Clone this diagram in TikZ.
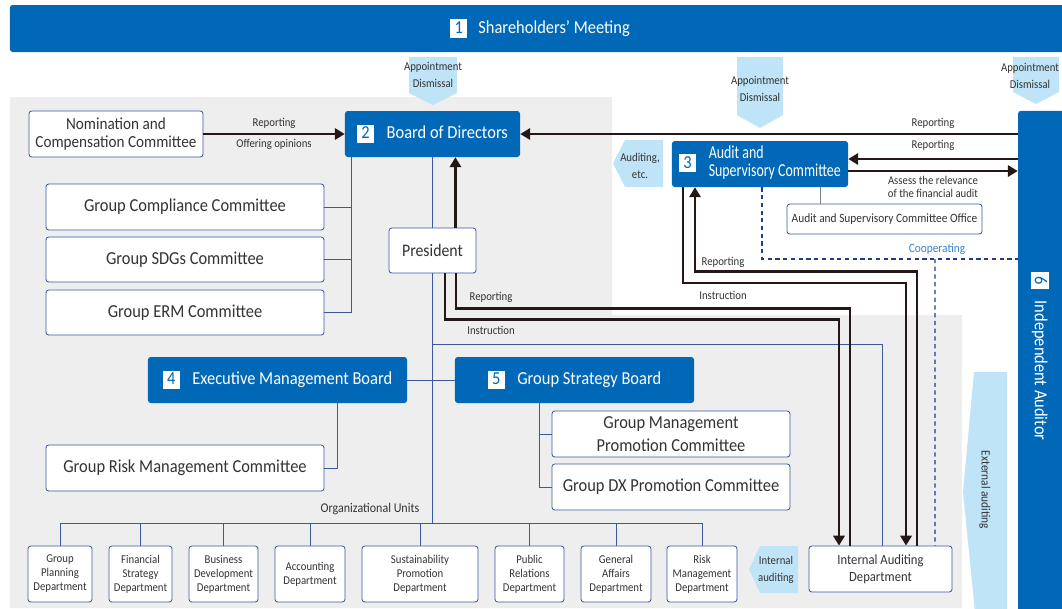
\documentclass[tikz,border=0pt]{standalone}
\usepackage{fontspec}
\setmainfont{Carlito}[FakeStretch=0.9]
\newfontfamily\narrowfont{Carlito}[FakeStretch=0.76]
\usetikzlibrary{arrows.meta,positioning,calc}
\definecolor{corpblue}{HTML}{0068B7}
\definecolor{paleblue}{HTML}{BFE4F8}
\definecolor{panelgrey}{HTML}{EEEEEE}
\definecolor{frameblue}{HTML}{3B5A9E}
\definecolor{inkgrey}{HTML}{333333}
\definecolor{flowink}{HTML}{231815}
\definecolor{coopblue}{HTML}{1D3C8A}
\definecolor{cooptext}{HTML}{3A86CB}
\setlength{\fboxsep}{1.5pt}
\newcommand{\badge}[1]{\colorbox{white}{\makebox[9pt]{\rule[-1.5pt]{0pt}{9.5pt}\color{corpblue}#1}}}

\begin{document}
\begin{tikzpicture}[x=0.025cm,y=-0.025cm,font=\fontsize{13}{13}\selectfont,
   unitbox/.style={draw=frameblue,fill=white,line width=0.6pt,rounded corners=2pt,align=center,text=inkgrey,inner sep=2pt},
   bluebox/.style={fill=corpblue,rounded corners=2pt,text=white,align=center,inner sep=2pt},
   deptbox/.style={unitbox,minimum height=1.4cm,font=\fontsize{8.5}{10}\selectfont},
   tag/.style={text=inkgrey,font=\fontsize{8.5}{12}\selectfont,inner sep=1pt,align=center},
   link/.style={draw=frameblue,line width=0.6pt},
   officelink/.style={draw=gray,line width=0.6pt},
   flow/.style={draw=flowink,line width=1.7pt},
   flowarrow/.style={flow,-{Triangle[length=7pt,width=8pt]}},
   coop/.style={draw=coopblue,line width=0.8pt,dash pattern=on 3pt off 2.5pt},
   marker/.style={fill=paleblue}]
  \useasboundingbox (0,0) rectangle (1062,608);

  % grey panel behind the execution side
  \fill[panelgrey] (10,97) -- (612,97) -- (612,315) -- (962,315) -- (962,608) -- (10,608) -- cycle;

  % light blue pointers
  \fill[marker] (409,57) -- (457,57) -- (457,93) -- (433,105) -- (409,93) -- cycle;
  \fill[marker] (737,57) -- (783,57) -- (783,115) -- (760,128) -- (737,115) -- cycle;
  \fill[marker] (1013,57) -- (1059,57) -- (1059,92) -- (1036,104) -- (1013,92) -- cycle;
  \fill[marker] (625,140) -- (663,140) -- (663,187) -- (625,187) -- (613,163.5) -- cycle;
  \fill[marker] (760,546) -- (798,546) -- (798,593) -- (760,593) -- (749,569.5) -- cycle;
  \fill[marker] (1007,372) -- (974,372) -- (963,492) -- (975,612) -- (1007,612) -- cycle;
  \node[tag] (appt1) at (433,75) {Appointment\\Dismissal};
  \node[tag] (appt2) at (760,89) {Appointment\\Dismissal};
  \node[tag] (appt3) at (1030,75.5) {Appointment\\Dismissal};
  \node[tag] (audetc) at (640,166) {Auditing,\\etc.};
  \node[tag] (intaud) at (776,570) {Internal\\auditing};
  \node[tag,font=\fontsize{9}{12}\selectfont,rotate=-90] (extaud) at (985,490) {External auditing};

  % bodies
  \node[bluebox,minimum width=26.5cm,minimum height=1.175cm] (meet) at (540,28.5) {\badge{1}\hspace{8pt}Shareholders’ Meeting};
  \node[bluebox,minimum width=1.55cm,minimum height=12.725cm] (auditor) at (1049,365.5) {};
  \node[text=white,rotate=-90] (auditorlbl) at (1040,356.5) {\badge{6}\hspace{8pt}Independent Auditor};

  \node[bluebox,minimum width=4.375cm,minimum height=1.15cm] (board) at (432.5,134) {\badge{2}\hspace{9pt}Board of Directors};
  \node[unitbox,minimum width=4.35cm,minimum height=1.15cm,font=\fontsize{12}{13}\selectfont] (nomcom) at (116,134) {Nomination and\\Compensation Committee};
  \node[unitbox,minimum width=6.95cm,minimum height=1.15cm] (comp) at (185,207) {Group Compliance Committee};
  \node[unitbox,minimum width=6.95cm,minimum height=1.125cm] (sdgs) at (185,259.5) {Group SDGs Committee};
  \node[unitbox,minimum width=6.95cm,minimum height=1.125cm] (erm) at (185,312.5) {Group ERM Committee};
  \node[unitbox,minimum width=2.175cm,minimum height=1.125cm,font=\fontsize{12.5}{13}\selectfont] (pres) at (432.5,250.5) {President};

  \node[bluebox,minimum width=4.4cm,minimum height=1.15cm] (asc) at (760,164)
       {\badge{3}\hspace{9pt}{\narrowfont\begin{tabular}{@{}l@{}}Audit and\\Supervisory Committee\end{tabular}}};
  \node[unitbox,minimum width=4.875cm,minimum height=0.75cm,font=\fontsize{9}{10}\selectfont] (office) at (884.5,219) {Audit and Supervisory Committee Office};

  \node[bluebox,minimum width=6.475cm,minimum height=1.15cm] (emb) at (277.5,380) {\badge{4}\hspace{9pt}Executive Management Board};
  \node[unitbox,minimum width=6.95cm,minimum height=1.15cm] (grm) at (185,468) {Group Risk Management Committee};
  \node[bluebox,minimum width=5.975cm,minimum height=1.15cm] (gsb) at (574.5,380) {\badge{5}\hspace{9pt}Group Strategy Board};
  \node[unitbox,minimum width=5.95cm,minimum height=1.15cm,font=\fontsize{13}{16}\selectfont] (gmp) at (671,434) {Group Management\\Promotion Committee};
  \node[unitbox,minimum width=5.95cm,minimum height=1.15cm] (gdx) at (671,487) {Group DX Promotion Committee};
  \node[unitbox,minimum width=3.575cm,minimum height=1.15cm,font=\fontsize{10}{12}\selectfont] (iad) at (880.5,569) {Internal Auditing\\Department};

  % organizational units
  \foreach \nm/\cx/\w/\txt in {
      gp/60/1.6/{Group\\Planning\\Department},
      fs/140.5/1.575/{Financial\\Strategy\\Department},
      bd/223.5/1.725/{Business\\Development\\Department},
      acc/310/1.75/{Accounting\\Department},
      sus/420/2.9/{Sustainability\\Promotion\\Department},
      pr/529.5/1.725/{Public\\Relations\\Department},
      ga/616/1.75/{General\\Affairs\\Department},
      rm/702/1.75/{Risk\\Management\\Department}}
    \node[deptbox,minimum width=\w cm] (\nm) at (\cx,574) {\txt};
  \node[text=inkgrey,font=\fontsize{9.5}{11}\selectfont] (orglbl) at (370,509) {Organizational Units};

  % thin reporting lines
  \coordinate (bodstem) at ([xshift=0.175cm]board.south west);
  \draw[link] (bodstem) |- (erm.east);
  \draw[link] (comp.east) -- (comp.east -| bodstem);
  \draw[link] (sdgs.east) -- (sdgs.east -| bodstem);
  \coordinate (bus) at (432.5,523);
  \coordinate (tap) at (432.5,344);
  \draw[link] (board.south) -- (pres.north);
  \draw[link] (pres.south) -- (bus);
  \draw[link] (gp.north |- bus) -- (rm.north |- bus);
  \foreach \nm in {gp,fs,bd,acc,sus,pr,ga,rm}
    \draw[link] (\nm.north) -- (\nm.north |- bus);
  \draw[link] (tap) -| ([xshift=0.06cm]iad.north);
  \draw[link] (emb.east) -- (gsb.west);
  \draw[link] ([xshift=1.4875cm]emb.south) |- (grm.east);
  \coordinate (gsbstem) at ([xshift=-0.8875cm]gsb.south);
  \draw[link] (gsbstem) |- (gdx.west);
  \draw[link] (gmp.west) -- (gmp.west -| gsbstem);
  \coordinate (officestem) at ([xshift=-1.6125cm]office.north);
  \draw[officelink] (officestem) -- (officestem |- asc.south);

  % cooperation with the auditor
  \coordinate (coopjoin) at (935,259);
  \draw[coop] ([xshift=0.05cm]asc.south) |- (coopjoin) -- (coopjoin -| auditor.west);
  \draw[coop] (coopjoin) -- ([xshift=1.3625cm]iad.north);
  \node[text=cooptext,font=\fontsize{9}{11}\selectfont] (cooplbl) at (937,249) {Cooperating};

  % heavy flows
  \draw[flowarrow] (nomcom) -- (board)
     node[midway,above=2pt,tag] {Reporting}
     node[midway,below=2pt,tag] {Offering opinions};
  \draw[flowarrow] (auditor.west |- board.east) -- (board.east);
  \node[tag] (bodrep) at (933,123) {Reporting};
  \coordinate (ascin) at ([yshift=0.125cm]asc.east);
  \coordinate (ascout) at ([yshift=-0.175cm]asc.east);
  \draw[flowarrow] (ascin -| auditor.west) -- (ascin);
  \draw[flowarrow] (ascout) -- (ascout -| auditor.west);
  \node[tag] (ascrep) at (933,145) {Reporting};
  \node[tag,font=\fontsize{8.5}{9.5}\selectfont] (assess) at (933,187) {Assess the relevance\\of the financial audit};

  \coordinate (presup) at ([xshift=-0.525cm]pres.north east);
  \draw[flowarrow] (presup) -- (presup |- board.south);
  \draw[flow] ([xshift=0.5875cm]pres.south) -- ++(0,35) -| ([xshift=-0.7625cm]iad.north);
  \draw[flowarrow] ([xshift=0.3125cm]pres.south) -- ++(0,46) -| ([xshift=-1.0375cm]iad.north);
  \node[tag] (presrep) at (491,297) {Reporting};
  \node[tag] (presins) at (491,330) {Instruction};

  \draw[flowarrow] ([xshift=-1.925cm]asc.south) -- ++(0,96) -| ([xshift=0.6375cm]iad.north);
  \draw[flowarrow] ([xshift=0.9125cm]iad.north) -- ++(0,-274) -| ([xshift=-1.625cm]asc.south);
  \node[tag] (iadrep) at (723,262) {Reporting};
  \node[tag] (iadins) at (723,295) {Instruction};
\end{tikzpicture}
\end{document}
